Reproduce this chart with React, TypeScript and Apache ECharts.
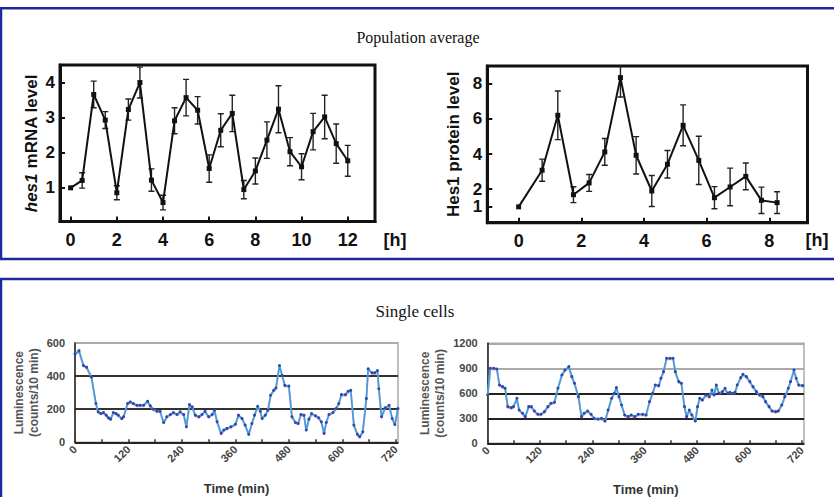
import React, { useEffect, useRef } from 'react';
import * as echarts from 'echarts';

// ---------- Population average: hes1 mRNA ----------
const mrnaTimes = [0, 0.5, 1, 1.5, 2, 2.5, 3, 3.5, 4, 4.5, 5, 5.5, 6, 6.5, 7, 7.5, 8, 8.5, 9, 9.5, 10, 10.5, 11, 11.5, 12];
const mrnaMean = [1.0, 1.21, 3.66, 2.93, 0.86, 3.23, 4.0, 1.22, 0.58, 2.91, 3.57, 3.21, 1.55, 2.64, 3.12, 0.95, 1.48, 2.36, 3.24, 2.03, 1.6, 2.6, 3.02, 2.26, 1.77];
const mrnaErr = [0, 0.22, 0.38, 0.24, 0.2, 0.3, 0.44, 0.32, 0.21, 0.37, 0.52, 0.39, 0.39, 0.47, 0.52, 0.26, 0.37, 0.52, 0.67, 0.4, 0.37, 0.52, 0.62, 0.56, 0.44];
const mrnaXTicks = [0, 2, 4, 6, 8, 10, 12];
const mrnaYTicks = [1, 2, 3, 4];

// ---------- Population average: Hes1 protein ----------
const proteinTimes = [0, 0.75, 1.25, 1.75, 2.25, 2.75, 3.25, 3.75, 4.25, 4.75, 5.25, 5.75, 6.25, 6.75, 7.25, 7.75, 8.25];
const proteinMean = [1.0, 3.08, 6.2, 1.69, 2.36, 4.12, 8.34, 3.93, 1.9, 3.42, 5.63, 3.64, 1.52, 2.13, 2.73, 1.37, 1.24];
const proteinErr = [0, 0.63, 1.38, 0.45, 0.48, 0.76, 1.1, 1.06, 0.88, 0.78, 1.16, 1.37, 0.63, 1.07, 0.76, 0.75, 0.62];
const proteinXTicks = [0, 2, 4, 6, 8];
const proteinYTicks = [1, 2, 4, 6, 8];
const proteinYLabelsMain = [2, 4, 6, 8];
const proteinYLabelsLow = [1];

// ---------- Single cells ----------
const cell1Times = [0, 9, 19, 26, 37, 47, 52, 58, 64, 70, 75, 80, 86, 92, 97, 105, 109, 118, 124, 131, 139, 146, 154, 163, 169, 176, 184, 191, 199, 206, 214, 221, 229, 236, 244, 250, 257, 263, 270, 278, 285, 292, 300, 308, 313, 319, 328, 334, 341, 350, 360, 367, 375, 382, 390, 397, 403, 410, 416, 420, 427, 433, 439, 446, 451, 459, 465, 471, 480, 487, 495, 501, 507, 514, 519, 525, 531, 540, 547, 553, 559, 564, 570, 579, 586, 592, 598, 607, 613, 619, 626, 634, 639, 646, 654, 658, 667, 673, 679, 682, 688, 696, 705, 712, 718, 725];
const cell1Values = [534, 554, 464, 454, 394, 234, 184, 174, 180, 164, 148, 140, 180, 174, 164, 144, 154, 234, 244, 234, 224, 224, 224, 248, 220, 200, 188, 188, 120, 154, 168, 180, 168, 184, 168, 94, 228, 214, 164, 154, 168, 188, 154, 168, 194, 124, 54, 74, 84, 94, 109, 164, 144, 104, 48, 114, 164, 218, 188, 144, 164, 194, 284, 314, 328, 464, 404, 344, 340, 154, 120, 114, 168, 164, 74, 140, 174, 160, 148, 124, 54, 120, 168, 180, 204, 234, 288, 288, 308, 314, 104, 48, 34, 64, 264, 444, 420, 420, 434, 324, 154, 208, 224, 144, 108, 204];

const cell2Times = [0, 6, 14, 21, 27, 34, 40, 46, 54, 59, 67, 72, 80, 86, 94, 100, 107, 115, 122, 130, 138, 145, 153, 161, 170, 177, 186, 193, 199, 208, 215, 221, 229, 237, 244, 253, 261, 269, 276, 284, 290, 295, 301, 307, 314, 322, 329, 337, 345, 355, 363, 371, 378, 384, 392, 397, 403, 410, 418, 425, 430, 438, 444, 451, 456, 462, 468, 476, 481, 486, 492, 500, 508, 514, 519, 524, 530, 538, 544, 550, 555, 561, 567, 572, 580, 585, 593, 601, 608, 616, 623, 631, 637, 645, 652, 660, 666, 674, 681, 689, 694, 702, 707, 713, 722];
const cell2Values = [580, 900, 900, 892, 700, 680, 660, 440, 428, 440, 540, 400, 360, 320, 440, 440, 388, 348, 348, 380, 440, 480, 492, 660, 820, 880, 920, 800, 720, 560, 320, 360, 388, 348, 300, 292, 300, 268, 400, 540, 600, 668, 560, 460, 340, 320, 340, 320, 348, 348, 340, 500, 600, 700, 692, 780, 860, 1020, 1020, 1020, 860, 740, 720, 440, 320, 400, 340, 268, 440, 540, 520, 580, 560, 640, 580, 700, 600, 620, 660, 600, 612, 600, 612, 700, 788, 828, 800, 740, 680, 620, 580, 560, 500, 440, 388, 380, 388, 460, 560, 660, 740, 880, 780, 700, 692];
const cellXLabels = [0, 120, 240, 360, 480, 600, 720];
const cellXTicks = [0, 60, 120, 180, 240, 300, 360, 420, 480, 540, 600, 660, 720];

const SANS = '"Liberation Sans", Arial, Helvetica, sans-serif';
const SERIF = '"Liberation Serif", "Times New Roman", serif';
const BLUE = '#1c2a9c';

function errorBarData(times: number[], mean: number[], err: number[]) {
  const out: number[][] = [];
  times.forEach((t, i) => {
    if (err[i] > 0) out.push([t, mean[i] - err[i], mean[i] + err[i]]);
  });
  return out;
}

const errorRender = (params: any, api: any) => {
  const x = api.value(0);
  const lo = api.value(1);
  const hi = api.value(2);
  const p1 = api.coord([x, hi]);
  const p2 = api.coord([x, lo]);
  const w = 3;
  const style = { stroke: '#222', lineWidth: 1.4 };
  return {
    type: 'group',
    children: [
      { type: 'line', shape: { x1: p1[0], y1: p1[1], x2: p2[0], y2: p2[1] }, style },
      { type: 'line', shape: { x1: p1[0] - w, y1: p1[1], x2: p1[0] + w, y2: p1[1] }, style },
      { type: 'line', shape: { x1: p2[0] - w, y1: p2[1], x2: p2[0] + w, y2: p2[1] }, style },
    ],
  };
};

const plain = (v: number) => String(v);

function topXAxis(grid: number, min: number, max: number, ticks: number[]) {
  return {
    type: 'value', gridIndex: grid, min, max,
    axisLine: { show: true, onZero: false, lineStyle: { color: '#111', width: 3 } },
    axisTick: { show: true, inside: true, length: 5, customValues: ticks, lineStyle: { color: '#111', width: 2 } },
    axisLabel: { customValues: ticks, formatter: plain, margin: 9, fontSize: 18, fontWeight: 'bold', color: '#111', fontFamily: SANS, hideOverlap: false, showMinLabel: true, showMaxLabel: true },
    splitLine: { show: false },
  };
}

function topYAxis(grid: number, min: number, max: number, ticks: number[], labels: number[], name: string, gap: number) {
  return {
    type: 'value', gridIndex: grid, min, max, position: 'left',
    name, nameLocation: 'middle', nameGap: gap, nameRotate: 90,
    nameTextStyle: {
      fontSize: 17, fontWeight: 'bold', color: '#111', fontFamily: SANS,
      rich: { i: { fontSize: 17, fontWeight: 'bold', fontStyle: 'italic', color: '#111', fontFamily: SANS } },
    },
    axisLine: { show: true, onZero: false, lineStyle: { color: '#111', width: 3 } },
    axisTick: { show: true, inside: true, length: 5, customValues: ticks, lineStyle: { color: '#111', width: 2 } },
    axisLabel: { customValues: labels, formatter: plain, margin: 5, fontSize: 17, lineHeight: 14, fontWeight: 'bold', color: '#111', fontFamily: SANS, hideOverlap: false, showMinLabel: true, showMaxLabel: true },
    splitLine: { show: false },
  };
}

function cellXAxis(grid: number) {
  return {
    type: 'value', gridIndex: grid, min: 0, max: 725,
    name: 'Time (min)', nameLocation: 'middle', nameGap: 40,
    nameTextStyle: { fontSize: 13, fontWeight: 'bold', color: '#333', fontFamily: SANS },
    axisLine: { show: true, onZero: false, lineStyle: { color: '#222', width: 1.5 } },
    axisTick: { show: true, inside: true, length: 3, customValues: cellXTicks, lineStyle: { color: '#333', width: 1.5 } },
    axisLabel: { customValues: cellXLabels, formatter: plain, rotate: 45, margin: 5, fontSize: 11, fontWeight: 'bold', color: '#444', fontFamily: SANS, showMinLabel: true, showMaxLabel: true },
    splitLine: { show: false },
  };
}

function cellYAxis(grid: number, max: number, interval: number, colors: string[], gap: number) {
  return {
    type: 'value', gridIndex: grid, min: 0, max, interval,
    name: 'Luminescence\n(counts/10 min)', nameLocation: 'middle', nameGap: gap, nameRotate: 90,
    nameTextStyle: { fontSize: 12, fontWeight: 'bold', color: '#555', lineHeight: 15, fontFamily: SANS },
    axisLine: { show: true, onZero: false, lineStyle: { color: '#222', width: 1.5 } },
    axisTick: { show: false },
    axisLabel: { formatter: plain, margin: 10, fontSize: 11, fontWeight: 'bold', color: '#444', fontFamily: SANS, showMinLabel: true, showMaxLabel: true },
    splitLine: { show: true, lineStyle: { color: colors, width: 2 } },
  };
}

function cellSeries(xIdx: number, yIdx: number, times: number[], values: number[]) {
  return {
    type: 'line', xAxisIndex: xIdx, yAxisIndex: yIdx,
    data: times.map((t, i) => [t, values[i]]),
    symbol: 'circle', symbolSize: 3, showSymbol: true,
    itemStyle: { color: '#2a4aa8' },
    lineStyle: { color: '#36a3dc', width: 1.8, shadowColor: 'rgba(230,60,170,0.7)', shadowBlur: 1.5, shadowOffsetY: 0.7 },
    z: 3,
  };
}

export default function App() {
  const ref = useRef<HTMLDivElement>(null);
  useEffect(() => {
    document.body.style.margin = '0';
    if (!ref.current) return;
    const chart = echarts.init(ref.current, undefined, { renderer: 'svg' });
    const option: any = {
      animation: false,
      backgroundColor: '#fff',
      grid: [
        { left: 60, top: 65, width: 315, height: 156.5, show: true, borderColor: '#111', borderWidth: 3, containLabel: false, outerBoundsMode: 'none' },
        { left: 487.3, top: 66, width: 320.2, height: 156.7, show: true, borderColor: '#111', borderWidth: 3, containLabel: false, outerBoundsMode: 'none' },
        { left: 75, top: 343, width: 323, height: 99.3, show: true, borderColor: '#aaa', borderWidth: 1.5, containLabel: false, outerBoundsMode: 'none' },
        { left: 487.7, top: 343.3, width: 316.3, height: 100, show: true, borderColor: '#aaa', borderWidth: 1.5, containLabel: false, outerBoundsMode: 'none' },
      ],
      xAxis: [
        topXAxis(0, -0.46, 13.18, mrnaXTicks),
        topXAxis(1, -1.0, 9.22, proteinXTicks),
        cellXAxis(2),
        cellXAxis(3),
      ],
      yAxis: [
        topYAxis(0, 0.04, 4.5, mrnaYTicks, mrnaYTicks, '{i|hes1} mRNA level', 20),
        topYAxis(1, 0.1, 9, proteinYTicks, proteinYLabelsMain, 'Hes1 protein level', 25),
        cellYAxis(2, 600, 200, ['#333', '#333', '#333', '#aaa'], 34),
        cellYAxis(3, 1200, 300, ['#222', '#222', '#222', '#aaa', '#aaa'], 40),
        {
          type: 'value', gridIndex: 1, min: 0.1, max: 9, position: 'left', offset: 0,
          axisLine: { show: false }, axisTick: { show: false }, splitLine: { show: false },
          axisLabel: { customValues: proteinYLabelsLow, formatter: plain, margin: 5, fontSize: 17, lineHeight: 14, fontWeight: 'bold', color: '#111', fontFamily: SANS, showMinLabel: true, showMaxLabel: true },
        },
      ],
      series: [
        {
          type: 'custom', xAxisIndex: 0, yAxisIndex: 0, clip: true,
          renderItem: errorRender, encode: { x: 0, y: [1, 2] },
          data: errorBarData(mrnaTimes, mrnaMean, mrnaErr),
        },
        {
          type: 'line', xAxisIndex: 0, yAxisIndex: 0,
          data: mrnaTimes.map((t, i) => [t, mrnaMean[i]]),
          symbol: 'rect', symbolSize: 5, itemStyle: { color: '#111' },
          lineStyle: { color: '#111', width: 2 },
        },
        {
          type: 'custom', xAxisIndex: 1, yAxisIndex: 1, clip: true,
          renderItem: errorRender, encode: { x: 0, y: [1, 2] },
          data: errorBarData(proteinTimes, proteinMean, proteinErr),
        },
        {
          type: 'line', xAxisIndex: 1, yAxisIndex: 1,
          data: proteinTimes.map((t, i) => [t, proteinMean[i]]),
          symbol: 'rect', symbolSize: 5, itemStyle: { color: '#111' },
          lineStyle: { color: '#111', width: 2 },
        },
        cellSeries(2, 2, cell1Times, cell1Values),
        cellSeries(3, 3, cell2Times, cell2Values),
      ],
      graphic: [
        { type: 'rect', shape: { x: 1, y: 8.3, width: 840, height: 250.7 }, style: { fill: 'none', stroke: BLUE, lineWidth: 2.5 }, z: 10 },
        { type: 'rect', shape: { x: 1, y: 279, width: 840, height: 300 }, style: { fill: 'none', stroke: BLUE, lineWidth: 2.5 }, z: 10 },
        { type: 'text', x: 418, y: 37, style: { text: 'Population average', font: `16px ${SERIF}`, fill: '#111', textAlign: 'center', textVerticalAlign: 'middle' } },
        { type: 'text', x: 415, y: 311, style: { text: 'Single cells', font: `17px ${SERIF}`, fill: '#111', textAlign: 'center', textVerticalAlign: 'middle' } },
        { type: 'text', x: 395, y: 240, style: { text: '[h]', font: `bold 18px ${SANS}`, fill: '#111', textAlign: 'center', textVerticalAlign: 'middle' } },
        { type: 'text', x: 817, y: 240, style: { text: '[h]', font: `bold 18px ${SANS}`, fill: '#111', textAlign: 'center', textVerticalAlign: 'middle' } },
      ],
    };
    chart.setOption(option);
    return () => chart.dispose();
  }, []);
  return <div ref={ref} style={{ width: 834, height: 497 }} />;
}
